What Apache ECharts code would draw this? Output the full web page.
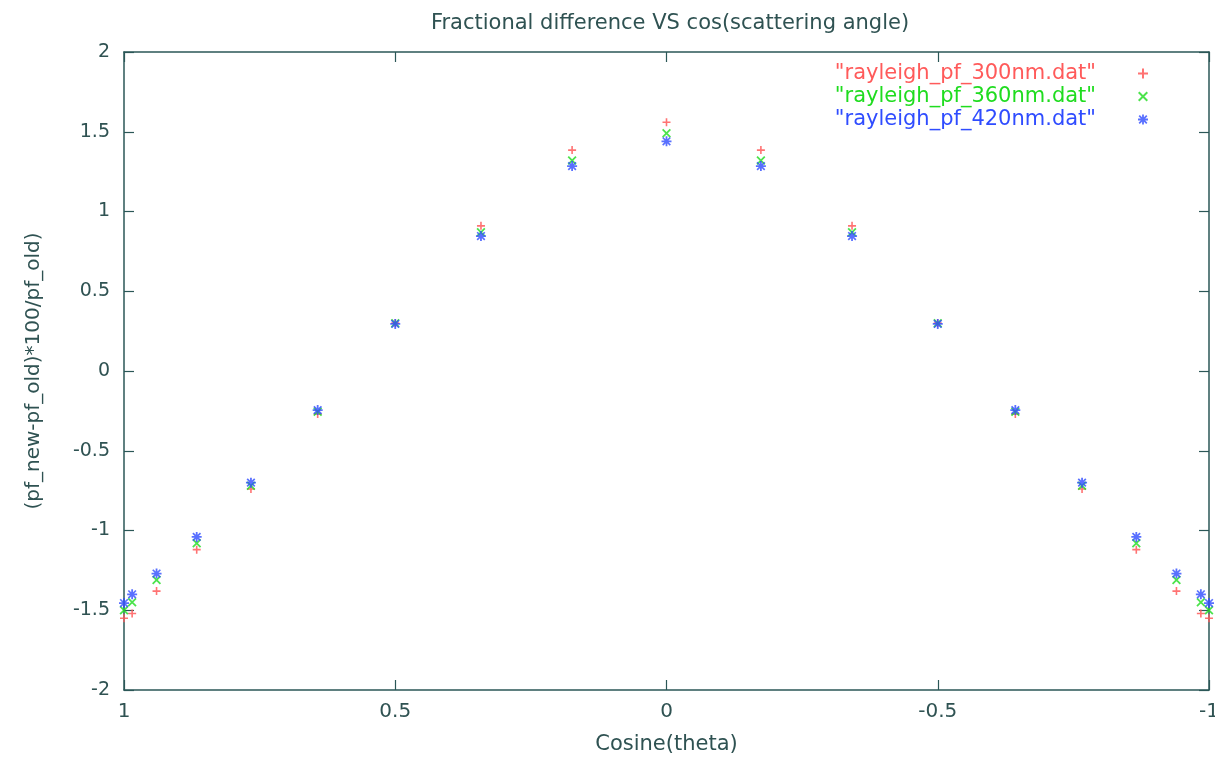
<!DOCTYPE html>
<html>
<head>
<meta charset="utf-8">
<script src="https://cdn.jsdelivr.net/npm/echarts@6/dist/echarts.min.js"></script>
<style>
  html, body { margin: 0; padding: 0; background: #fff; }
  #main { width: 1215px; height: 759px; }
</style>
</head>
<body>
<div id="main"></div>
<script>
// cos(scattering angle)
var cosTheta = [1, 0.985, 0.94, 0.866, 0.766, 0.643, 0.5, 0.342, 0.174, 0,
  -0.174, -0.342, -0.5, -0.643, -0.766, -0.866, -0.94, -0.985, -1];

var pf300 = [-1.55, -1.52, -1.38, -1.12, -0.74, -0.27, 0.30, 0.91, 1.385, 1.56,
  1.385, 0.91, 0.30, -0.27, -0.74, -1.12, -1.38, -1.52, -1.55];
var pf360 = [-1.50, -1.45, -1.31, -1.08, -0.72, -0.255, 0.30, 0.87, 1.32, 1.49,
  1.32, 0.87, 0.30, -0.255, -0.72, -1.08, -1.31, -1.45, -1.50];
var pf420 = [-1.455, -1.40, -1.27, -1.04, -0.70, -0.245, 0.295, 0.846, 1.285, 1.44,
  1.285, 0.846, 0.295, -0.245, -0.70, -1.04, -1.27, -1.40, -1.455];

var seriesNames = ['"rayleigh_pf_300nm.dat"', '"rayleigh_pf_360nm.dat"', '"rayleigh_pf_420nm.dat"'];

var xTicks = [1, 0.5, 0, -0.5, -1];
var yTicks = [-2, -1.5, -1, -0.5, 0, 0.5, 1, 1.5, 2];

var colors = ["#ff5a5a", "#1fdc1f", "#2f4cff"];
var axisColor = "#2b5757";
var textColor = "#2f5252";
var font = "DejaVu Sans";

var plusPath = "path://M4,0H6V10H4Z M0,4H10V6H0Z";
var crossPath = "path://M0,1.4L1.4,0L10,8.6L8.6,10Z M8.6,0L10,1.4L1.4,10L0,8.6Z";
var starPath = "path://M4.1,0H5.9V10H4.1Z M0,4.1H10V5.9H0Z M0.6,1.8L1.8,0.6L9.4,8.2L8.2,9.4Z M8.2,0.6L9.4,1.8L1.8,9.4L0.6,8.2Z";

function pairs(ys) {
  return cosTheta.map(function (x, i) { return [x, ys[i]]; });
}

var dom = document.getElementById("main");
var chart = echarts.init(dom);

function xAxisBase(pos) {
  return {
    type: "value",
    position: pos,
    min: -1,
    max: 1,
    interval: 0.5,
    inverse: true,
    axisLine: { show: true, onZero: false, lineStyle: { color: axisColor, width: 1.5 } },
    axisTick: { show: true, inside: true, length: 10, lineStyle: { color: axisColor, width: 1.2 } },
    splitLine: { show: false },
    axisLabel: {
      show: pos === "bottom",
      color: textColor,
      fontFamily: font,
      fontSize: 20,
      margin: 12,
      formatter: function (v) { return xTicks.indexOf(v) >= 0 ? String(v) : ""; }
    }
  };
}

function yAxisBase(pos) {
  return {
    type: "value",
    position: pos,
    min: -2,
    max: 2,
    interval: 0.5,
    axisLine: { show: true, onZero: false, lineStyle: { color: axisColor, width: 1.5 } },
    axisTick: { show: true, inside: true, length: 10, lineStyle: { color: axisColor, width: 1.2 } },
    splitLine: { show: false },
    axisLabel: {
      show: pos === "left",
      color: textColor,
      fontFamily: font,
      fontSize: 19,
      margin: 14,
      formatter: function (v) { return yTicks.indexOf(v) >= 0 ? String(v) : ""; }
    }
  };
}

var bottomX = xAxisBase("bottom");
bottomX.name = "Cosine(theta)";
bottomX.nameLocation = "middle";
bottomX.nameGap = 44;
bottomX.nameTextStyle = { color: textColor, fontFamily: font, fontSize: 21 };

var leftY = yAxisBase("left");
leftY.name = "(pf_new-pf_old)*100/pf_old)";
leftY.nameLocation = "middle";
leftY.nameGap = 80;
leftY.nameTextStyle = { color: textColor, fontFamily: font, fontSize: 20 };

var option = {
  animation: false,
  backgroundColor: "#fff",
  title: {
    text: "Fractional difference VS cos(scattering angle)",
    left: 665,
    textAlign: "center",
    top: 8,
    textStyle: { color: textColor, fontFamily: font, fontSize: 21, fontWeight: "normal" }
  },
  legend: {
    orient: "vertical",
    right: 62,
    top: 58,
    align: "right",
    itemGap: 2,
    itemWidth: 10,
    itemHeight: 10,
    textStyle: { fontFamily: font, fontSize: 21, padding: [0, 37, 0, 0] },
    data: [
      { name: seriesNames[0], icon: plusPath, textStyle: { color: colors[0] } },
      { name: seriesNames[1], icon: crossPath, textStyle: { color: colors[1] } },
      { name: seriesNames[2], icon: starPath, textStyle: { color: colors[2] } }
    ]
  },
  grid: { left: 124, right: 6, top: 52, bottom: 69, outerBoundsMode: "none" },
  xAxis: [bottomX, xAxisBase("top")],
  yAxis: [leftY, yAxisBase("right")],
  series: [
    {
      name: seriesNames[0], type: "scatter", xAxisIndex: 0, yAxisIndex: 0,
      symbol: plusPath, symbolSize: 8, clip: false,
      itemStyle: { color: colors[0], opacity: 0.85 },
      data: pairs(pf300)
    },
    {
      name: seriesNames[1], type: "scatter", xAxisIndex: 0, yAxisIndex: 0,
      symbol: crossPath, symbolSize: 9, clip: false,
      itemStyle: { color: colors[1] },
      data: pairs(pf360)
    },
    {
      name: seriesNames[2], type: "scatter", xAxisIndex: 0, yAxisIndex: 0,
      symbol: starPath, symbolSize: 10, clip: false,
      itemStyle: { color: colors[2] },
      data: pairs(pf420)
    }
  ]
};
chart.setOption(option);
</script>
</body>
</html>
